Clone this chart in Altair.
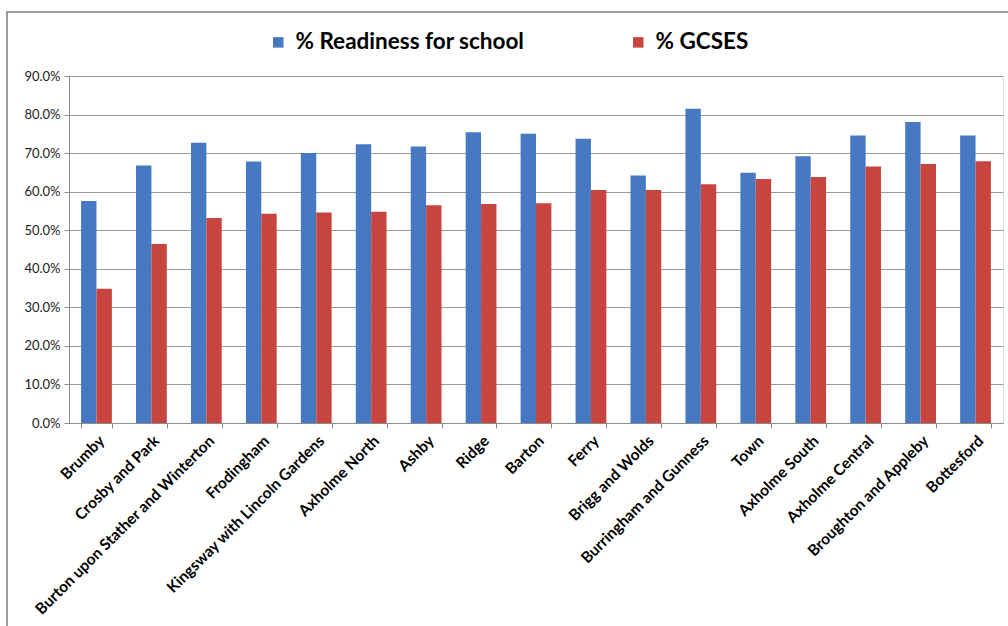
import altair as alt
import pandas as pd

wards = ["Brumby", "Crosby and Park", "Burton upon Stather and Winterton", "Frodingham",
         "Kingsway with Lincoln Gardens", "Axholme North", "Ashby", "Ridge", "Barton",
         "Ferry", "Brigg and Wolds", "Burringham and Gunness", "Town", "Axholme South",
         "Axholme Central", "Broughton and Appleby", "Bottesford"]
readiness = [57.6, 66.8, 72.7, 67.8, 70.0, 72.3, 71.7, 75.4, 75.0,
             73.7, 64.2, 81.5, 64.9, 69.2, 74.6, 78.1, 74.6]
gcses = [34.8, 46.4, 53.2, 54.3, 54.6, 54.8, 56.5, 56.8, 57.0,
         60.4, 60.4, 61.9, 63.3, 63.8, 66.5, 67.2, 67.9]
series = ["% Readiness for school", "% GCSES"]
colors = ["#4679C1", "#C8443F"]

rows = []
for w, r, g in zip(wards, readiness, gcses):
    rows.append({"ward": w, "series": series[0], "value": r / 100})
    rows.append({"ward": w, "series": series[1], "value": g / 100})
df = pd.DataFrame(rows)

FONT = "Lato"

bars = alt.Chart(df).mark_bar().encode(
    x=alt.X("ward:N", sort=wards, title=None,
            scale=alt.Scale(paddingInner=0.44, paddingOuter=0.22),
            axis=alt.Axis(labelAngle=-45, labelFont=FONT, labelFontSize=15.5,
                          labelFontWeight="bold", labelColor="#000000",
                          tickBand="extent", domainColor="#8C8C8C", tickColor="#8C8C8C",
                          tickSize=5, labelPadding=5, labelOverlap=False, labelLimit=400)),
    xOffset=alt.XOffset("series:N", sort=series),
    y=alt.Y("value:Q", title=None,
            scale=alt.Scale(domain=[0, 0.9], nice=False),
            axis=alt.Axis(format=".1%", values=[i / 10 for i in range(10)],
                          labelFont=FONT, labelFontSize=13, labelColor="#222222",
                          gridColor="#9A9A9A", domainColor="#8C8C8C", tickColor="#8C8C8C",
                          tickSize=5, labelPadding=4)),
    color=alt.Color("series:N", sort=series,
                    scale=alt.Scale(domain=series, range=colors),
                    legend=alt.Legend(orient="none", legendX=198, legendY=-45,
                                      direction="horizontal", title=None,
                                      symbolType="square", symbolSize=110,
                                      symbolStrokeWidth=0, labelLimit=400,
                                      labelFont=FONT, labelFontSize=22.5,
                                      labelFontWeight="bold", labelColor="#000000",
                                      labelOffset=6, columnPadding=102, symbolOffset=0)),
)

frame = alt.Chart(pd.DataFrame({"f": [0]})).mark_rect(
    fill=None, stroke="#7F7F7F", strokeWidth=1.5
).encode(x=alt.value(-62), x2=alt.value(945), y=alt.value(-64), y2=alt.value(560))

chart = alt.layer(frame, bars).properties(
    width=934, height=347,
    autosize=alt.AutoSizeParams(type="none"),
    padding={"left": 69, "top": 76, "right": 5, "bottom": 203},
).configure_view(stroke=None).configure(background="white")

chart.save("out.html", embed_options={"renderer": "svg", "actions": False})
